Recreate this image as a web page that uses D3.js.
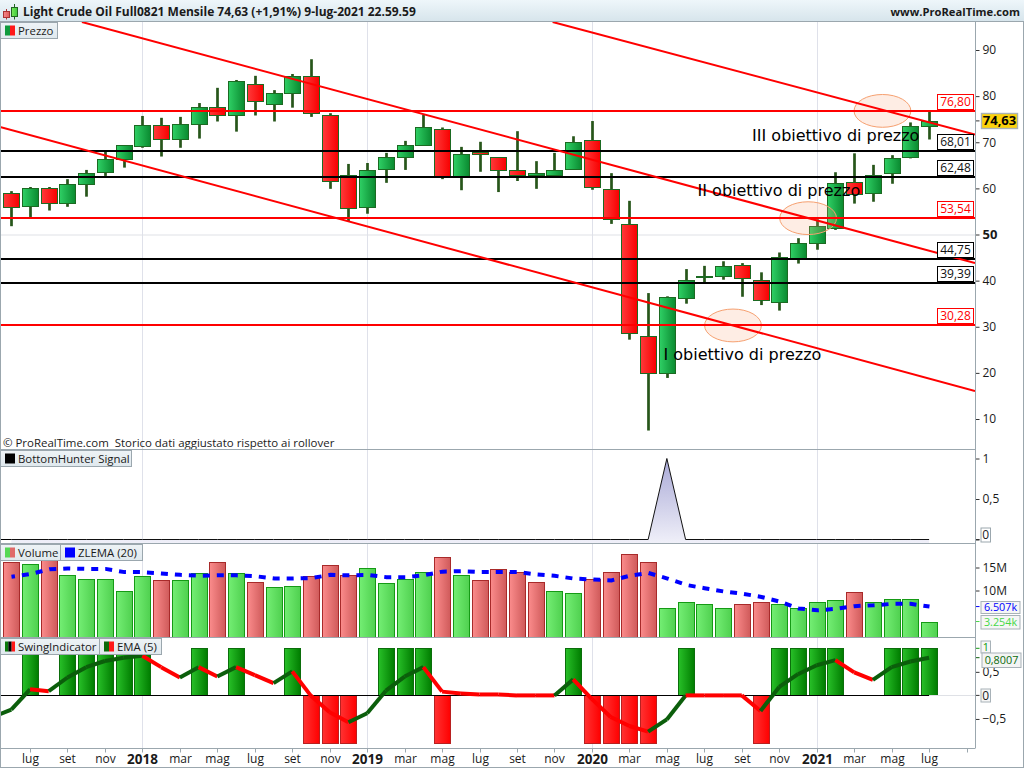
<!DOCTYPE html>
<html><head><meta charset="utf-8">
<script src="https://cdn.jsdelivr.net/npm/d3@7"></script>
<style>
html,body{margin:0;padding:0;background:#fff;overflow:hidden}
svg{display:block}
text{font-family:"Open Sans",sans-serif;fill:#1a1a1a}
</style></head><body>
<svg id="c" width="1024" height="768"></svg>
<script>
// ---------- DATA ----------
const monthTicks = ["lug","set","nov","2018","mar","mag","lug","set","nov","2019","mar","mag","lug","set","nov","2020","mar","mag","lug","set","nov","2021","mar","mag","lug",""];
const open  = [58.9,56.2,60.0,56.8,60.9,63.6,66.3,69.1,73.7,70.6,73.9,77.6,75.8,82.6,78.4,80.6,84.3,75.8,63.0,56.0,64.1,66.9,69.5,72.8,62.5,67.9,66.7,63.9,63.3,63.0,64.3,70.4,59.8,52.2,28.1,20.0,36.2,40.7,40.9,43.3,40.1,35.3,44.8,48.1,51.5,61.4,59.1,63.3,66.7,73.5];
const close = [55.9,60.0,56.8,60.9,63.3,66.3,69.3,73.7,70.6,73.9,77.6,75.8,83.2,78.9,80.6,84.3,76.3,61.5,55.7,63.9,66.9,69.5,73.2,62.5,67.4,67.4,63.9,63.0,63.0,63.9,70.0,60.4,53.3,28.6,19.9,36.4,40.1,40.9,43.1,40.5,35.7,45.1,48.1,51.8,61.1,58.7,63.0,66.5,73.5,74.6];
const high  = [59.4,60.3,60.3,62.0,64.0,68.0,69.3,75.7,75.3,75.5,78.5,81.8,83.5,84.4,81.3,84.8,88.0,76.3,65.3,65.5,67.7,70.3,75.9,73.2,69.0,70.1,66.7,72.4,65.9,67.7,71.3,74.6,63.3,57.3,37.3,36.6,42.5,43.2,44.2,43.8,41.8,46.1,49.2,53.3,63.5,67.6,65.1,67.2,74.3,76.6];
const low   = [51.8,53.8,55.2,56.0,58.2,62.7,64.5,68.8,66.9,68.8,70.8,74.5,72.3,75.8,74.5,77.5,75.5,59.9,52.8,54.5,61.2,64.0,69.5,62.0,59.6,63.6,59.2,61.6,59.9,62.5,64.0,59.7,52.3,27.2,7.5,18.9,35.0,39.5,40.2,36.5,34.7,33.5,43.7,46.7,51.0,56.7,57.1,61.0,66.5,70.6];
const bullish = [0,1,0,1,1,1,1,1,0,1,1,0,1,0,1,1,0,0,0,1,1,1,1,0,1,0,0,0,1,1,1,0,0,0,0,1,1,1,1,0,0,1,1,1,1,0,1,1,1,1];

const priceTicks = [10,20,30,40,50,60,70,80,90];
const redLevels = [76.80,53.54,30.28];
const blackLevels = [68.01,62.48,44.75,39.39];
// trend lines: [month index, price] endpoints
const trendA = [[3.77,96.07],[51.45,43.8]];
const trendB = [[-0.6,73.3],[51.45,16.07]];
const trendC = [[28.9,96.07],[51.45,71.7]];
// target ellipses: [month index, price]
const targets = [[46.51,76.8],[42.54,53.54],[38.53,30.28]];
const notes = ["III obiettivo di prezzo","II obiettivo di prezzo","I obiettivo di prezzo"];
const noteAnchors = [[39.55,70.3],[36.64,58.25],[34.82,22.8]];

const bottomHunter = [0,0,0,0,0,0,0,0,0,0,0,0,0,0,0,0,0,0,0,0,0,0,0,0,0,0,0,0,0,0,0,0,0,0,0,1,0,0,0,0,0,0,0,0,0,0,0,0,0,0];

const volume = [16.1,15.7,16.6,13.3,12.6,12.6,9.8,13.1,12.2,12.2,13.7,16.1,13.7,11.8,10.7,10.9,13.1,15.5,13.3,14.8,11.6,12.6,14.0,17.2,13.3,12.2,14.6,14.0,11.8,10.0,9.4,12.6,14.0,17.9,16.3,6.3,7.4,7.0,6.3,7.0,7.4,7.0,6.1,7.4,7.9,9.6,7.4,8.1,8.1,3.254];
const volumeUp = [0,1,0,1,1,1,1,1,0,1,1,0,1,0,1,1,0,0,0,1,1,1,1,0,1,0,0,0,0,1,1,0,0,0,0,1,1,1,1,0,0,1,1,1,1,0,1,1,1,1];
const zlema = [13.0,13.6,14.6,14.8,14.7,14.7,14.0,14.0,13.7,13.4,13.2,13.3,13.3,13.1,12.6,12.6,12.7,13.4,13.3,13.4,12.9,12.9,13.3,14.1,14.2,14.0,14.0,14.0,13.5,13.2,12.6,12.4,12.2,13.2,13.8,12.6,11.2,10.5,9.8,9.3,8.6,7.6,6.1,5.7,6.0,6.6,6.8,7.1,7.1,6.507];
const volumeTicks = [10,15];

const swing = [0,1,0,1,1,1,1,1,0,0,1,0,1,0,0,1,-1,-1,-1,0,1,1,1,-1,0,0,0,0,0,0,1,-1,-1,-1,-1,0,1,0,0,0,-1,1,1,1,1,0,0,1,1,1];
// EMA(5): first value belongs to the month before the first candle
const ema = [-0.46,-0.30,0.13,0.09,0.38,0.60,0.73,0.80,0.84,0.60,0.38,0.60,0.40,0.60,0.43,0.26,0.51,-0.01,-0.36,-0.57,-0.38,0.10,0.40,0.60,0.08,0.04,0.02,0.02,0.0,0.0,0.0,0.34,-0.08,-0.46,-0.65,-0.77,-0.51,0.0,0.0,0.0,0.0,-0.33,0.18,0.45,0.64,0.75,0.49,0.33,0.60,0.72,0.8007];
const swingTicks = [-0.5,0.5];

// ---------- LAYOUT ----------
const svg = d3.select("#c");
const W = 1024, H = 768, axisX = 975;
const P = {title:21, price:[22,449.5], hunter:[449.5,543.5], vol:[543.5,637.5], swing:[637.5,748.5]};
const FRAME = "#9ba7ae";

const x = d3.scaleLinear().domain([0,49]).range([11.3,929.1]);
const cx = i => Math.round(x(i))+0.5;
const y = d3.scaleLinear().domain([10,90]).range([419,50]);
const yH = d3.scaleLinear().domain([0,1]).range([539.5,458.5]);
const yV = d3.scaleLinear().domain([0,15]).range([636.5,567.5]);
const yS = d3.scaleLinear().domain([-1,1]).range([742.5,648.3]);
const comma = v => String(v).replace(".",",").replace("-","\u2212");

// ---------- DEFS ----------
const defs = svg.append("defs");
function grad(id,c1,c2,vert){
  const g = defs.append("linearGradient").attr("id",id)
    .attr("x1",0).attr("y1",0).attr("x2",vert?0:1).attr("y2",vert?1:0);
  g.append("stop").attr("offset",0).attr("stop-color",c1);
  g.append("stop").attr("offset",1).attr("stop-color",c2);
}
grad("gCandleUp","#2fd065","#0a8a30");
grad("gCandleDn","#ff3a3a","#f80000");
grad("gVolUp","#74ee74","#4fd04f");
grad("gVolDn","#fb8c8c","#cf5a5a");
grad("gSwUp","#28c028","#007c00");
grad("gSwDn","#ff3232","#ff0000");
grad("gTitle","#eef6fa","#d7e5ec",true);
grad("gLeg","#eef3f6","#dfe8ed",true);
grad("gHunter","#a9a9d6","#f0f0f9",true);
grad("gIconUp","#7cec5c","#3cc83c");
grad("gIconDn","#f48a8a","#e05a5a");
defs.append("clipPath").attr("id","clipPrice").append("rect")
  .attr("x",0).attr("y",P.price[0]).attr("width",axisX).attr("height",P.price[1]-P.price[0]);
defs.append("clipPath").attr("id","clipPlot").append("rect")
  .attr("x",0).attr("y",0).attr("width",axisX).attr("height",H);

// ---------- GRID ----------
const yearIdx = [7,19,31,43];
svg.append("g").selectAll("line").data(yearIdx).join("line")
  .attr("x1",cx).attr("x2",cx).attr("y1",P.price[0]).attr("y2",P.swing[1])
  .attr("stroke","#dfe1ea").attr("stroke-width",1);
svg.append("line").attr("x1",1).attr("x2",axisX).attr("y1",y(50)+.5).attr("y2",y(50)+.5)
  .attr("stroke","#dfe1e6").attr("stroke-width",1);

// ---------- PRICE ----------
const idx = d3.range(50);
const pg = svg.append("g");
pg.selectAll("rect.w").data(idx).join("rect").attr("class","w")
  .attr("x",i=>cx(i)-1.35).attr("width",2.7)
  .attr("y",i=>y(high[i])).attr("height",i=>y(low[i])-y(high[i]))
  .attr("fill","#27561a");
pg.selectAll("rect.b").data(idx).join("rect").attr("class","b")
  .attr("x",i=>cx(i)-8).attr("width",16)
  .attr("y",i=>Math.round(y(Math.max(open[i],close[i])))+.5)
  .attr("height",i=>Math.max(0.5,Math.round(y(Math.min(open[i],close[i])))-Math.round(y(Math.max(open[i],close[i])))))
  .attr("fill",i=>bullish[i]?"url(#gCandleUp)":"url(#gCandleDn)")
  .attr("stroke","#1c6a22").attr("stroke-width",1);

// target ellipses
svg.append("g").selectAll("ellipse").data(targets).join("ellipse")
  .attr("cx",d=>x(d[0])).attr("cy",d=>y(d[1])).attr("rx",28.4).attr("ry",16.4)
  .attr("fill","#f9a47a").attr("fill-opacity",0.2)
  .attr("stroke","#f6a070").attr("stroke-width",1);

// horizontal levels
const lg = svg.append("g");
lg.selectAll("line.k").data(blackLevels).join("line").attr("class","k")
  .attr("x1",1).attr("x2",axisX).attr("y1",d=>Math.round(y(d))).attr("y2",d=>Math.round(y(d)))
  .attr("stroke","#000").attr("stroke-width",2);
lg.selectAll("line.r").data(redLevels).join("line").attr("class","r")
  .attr("x1",1).attr("x2",axisX).attr("y1",d=>Math.round(y(d))).attr("y2",d=>Math.round(y(d)))
  .attr("stroke","#ff0000").attr("stroke-width",2);

// trend lines
const tl = d3.line().x(d=>x(d[0])).y(d=>y(d[1]));
svg.append("g").attr("clip-path","url(#clipPrice)").selectAll("path")
  .data([trendA,trendB,trendC]).join("path")
  .attr("d",tl).attr("fill","none").attr("stroke","#ff0000").attr("stroke-width",2);

// level labels
const levels = redLevels.map(v=>({v,c:"#ff0000"})).concat(blackLevels.map(v=>({v,c:"#000"})));
const lb = svg.append("g").selectAll("g").data(levels).join("g")
  .attr("transform",d=>`translate(937.5,${Math.round(y(d.v))-16.5})`);
lb.append("rect").attr("width",36).attr("height",15).attr("fill","#fff").attr("stroke",d=>d.c).attr("stroke-width",1);
lb.append("text").attr("x",18).attr("y",11.6).attr("text-anchor","middle").attr("font-size",12)
  .style("fill",d=>d.c==="#000"?"#111":"#ff0000").text(d=>d.v.toFixed(2).replace(".",","));

// annotations
svg.append("g").selectAll("text").data(notes).join("text")
  .attr("x",(d,i)=>x(noteAnchors[i][0])).attr("y",(d,i)=>y(noteAnchors[i][1]))
  .attr("font-size",16).style("font-family",'"DejaVu Sans",sans-serif').style("fill","#000").text(d=>d);

svg.append("text").attr("x",3).attr("y",447).attr("font-size",11.45)
  .text("\u00a9 ProRealTime.com\u00a0\u00a0Storico dati aggiustato rispetto ai rollover");

// ---------- BOTTOM HUNTER ----------
const ha = d3.area().x((d,i)=>x(i)).y0(P.hunter[1]).y1(d=>yH(d));
svg.append("path").datum(bottomHunter).attr("d",ha).attr("fill","url(#gHunter)");
const hl = d3.line().x((d,i)=>x(i)).y(d=>yH(d));
svg.append("line").attr("x1",1).attr("x2",x(0)).attr("y1",yH(0)).attr("y2",yH(0)).attr("stroke","#000");
svg.append("path").datum(bottomHunter).attr("d",hl).attr("fill","none").attr("stroke","#111").attr("stroke-width",1);

// ---------- VOLUME ----------
svg.append("g").selectAll("rect").data(idx).join("rect")
  .attr("x",i=>cx(i)-8).attr("width",16)
  .attr("y",i=>Math.round(yV(volume[i]))+.5).attr("height",i=>P.vol[1]-Math.round(yV(volume[i]))-.5)
  .attr("fill",i=>volumeUp[i]?"url(#gVolUp)":"url(#gVolDn)")
  .attr("stroke",i=>volumeUp[i]?"#159a15":"#a82a2a").attr("stroke-width",1);
svg.append("path").datum(zlema)
  .attr("d",d3.line().x((d,i)=>cx(i)).y(d=>yV(d)))
  .attr("fill","none").attr("stroke","#0000ff").attr("stroke-width",4)
  .attr("stroke-dasharray","7 7").attr("stroke-dashoffset",3.5);

// ---------- SWING ----------
svg.append("g").selectAll("rect").data(idx.filter(i=>swing[i]!==0)).join("rect")
  .attr("x",i=>cx(i)-8).attr("width",16)
  .attr("y",i=>swing[i]>0?Math.round(yS(1))+.5:Math.round(yS(0))+.5)
  .attr("height",i=>swing[i]>0?Math.round(yS(0))-Math.round(yS(1)):Math.round(yS(-1))-Math.round(yS(0)))
  .attr("fill",i=>swing[i]>0?"url(#gSwUp)":"url(#gSwDn)")
  .attr("stroke",i=>swing[i]>0?"#0b6e0b":"#b82020").attr("stroke-width",1);
svg.append("line").attr("x1",1).attr("x2",x(49)).attr("y1",Math.round(yS(0))+.5).attr("y2",Math.round(yS(0))+.5).attr("stroke","#000");
svg.append("line").attr("x1",x(49)).attr("x2",axisX).attr("y1",Math.round(yS(0))+.5).attr("y2",Math.round(yS(0))+.5).attr("stroke","#dfe1e6");
const emaG = svg.append("g").attr("clip-path","url(#clipPlot)");
emaG.selectAll("line").data(d3.range(ema.length-1)).join("line")
  .attr("x1",k=>x(k-1)).attr("x2",k=>x(k))
  .attr("y1",k=>yS(ema[k])).attr("y2",k=>yS(ema[k+1]))
  .attr("stroke",k=>ema[k+1]>ema[k]?"#0b5e0b":"#ff0000")
  .attr("stroke-width",4).attr("stroke-linecap","butt");

// ---------- AXES ----------
function styleAxis(g,size){
  g.select(".domain").remove();
  g.selectAll(".tick line").attr("stroke","#333");
  g.selectAll(".tick text").attr("font-size",size).style("font-family",'"Open Sans",sans-serif').style("fill","#1a1a1a");
}
const ax = svg.append("g").attr("transform",`translate(${axisX+.5},0)`)
  .call(d3.axisRight(y).tickValues(priceTicks).tickSize(4).tickPadding(3).tickFormat(d3.format("d")));
styleAxis(ax,12);
ax.selectAll(".tick text").filter(d=>d===50).attr("font-weight","bold").attr("font-size",13);

const ah = svg.append("g").attr("transform",`translate(${axisX+.5},0)`)
  .call(d3.axisRight(yH).tickValues([0,0.5,1]).tickSize(4).tickPadding(3).tickFormat(comma));
styleAxis(ah,12);
ah.selectAll(".tick text").filter(d=>d===0).remove();

const av = svg.append("g").attr("transform",`translate(${axisX+.5},0)`)
  .call(d3.axisRight(yV).tickValues(volumeTicks).tickSize(4).tickPadding(3).tickFormat(d=>d+"M"));
styleAxis(av,12);

const as = svg.append("g").attr("transform",`translate(${axisX+.5},0)`)
  .call(d3.axisRight(yS).tickValues(swingTicks).tickSize(4).tickPadding(3).tickFormat(comma));
styleAxis(as,12);

const tickIdx = d3.range(1,52,2);
const at = svg.append("g").attr("transform",`translate(0,${P.swing[1]})`)
  .call(d3.axisBottom(x).tickValues(tickIdx).tickSize(4).tickPadding(2).tickFormat((d,i)=>monthTicks[i]));
styleAxis(at,12);
at.selectAll(".tick line").attr("stroke","#9ba7ae");
at.selectAll(".tick").attr("transform",d=>`translate(${cx(d)},0)`);
at.selectAll(".tick text").filter((d,i)=>/^\d+$/.test(monthTicks[i])).attr("font-weight","bold").attr("font-size",13.5);

// small value boxes on the right
function valBox(bx,by,w,h,txt,col,fill,stroke,opts){
  opts=opts||{};
  const g = svg.append("g").attr("transform",`translate(${bx},${by})`);
  g.append("rect").attr("width",w).attr("height",h).attr("fill",fill).attr("stroke",stroke).attr("stroke-width",opts.sw||1);
  g.append("text").attr("x",w/2).attr("y",h/2+(opts.size&&opts.size<12?3.9:4.2)).attr("text-anchor","middle")
    .attr("font-size",opts.size||12).attr("font-weight",opts.bold?"bold":"normal").style("fill",col).text(txt);
}
function smallTick(v,scale,col){
  svg.append("line").attr("x1",axisX+.5).attr("x2",axisX+4.5).attr("y1",scale(v)).attr("y2",scale(v)).attr("stroke",col||"#333");
}
smallTick(close[49]+0.03,y);
valBox(981.5,113.5,36,15,"74,63","#000","#fbd10b","#a8b2b8",{bold:true,size:13,sw:1.4});
smallTick(0,yH);
valBox(981,528,9.5,14,"0","#222","#fff","#9ba7ae");
smallTick(zlema[49],yV,"#0000ff");
valBox(981,601.5,39,12,"6.507k","#0000ff","#f6f6f6","#a8b2b8",{size:10.8});
smallTick(volume[49],yV,"#46d846");
valBox(981,615.5,39,13.5,"3.254k","#46d846","#f6f6f6","#a8b2b8",{size:10.8});
smallTick(1,yS,"#119911");
valBox(981,641,9.5,12,"1","#0a9a0a","#f6f6f6","#a8b2b8",{size:10.8});
smallTick(0,yS);
valBox(981,689,9.5,13,"0","#222","#f6f6f6","#a8b2b8");
smallTick(ema[50],yS,"#0b5e0b");
valBox(982,653,39,14.5,"0,8007","#0b6a0b","#f4f4f4","#a8b2b8",{size:10.8});

// ---------- FRAME, TITLE, LEGENDS ----------
const fr = svg.append("g").attr("fill","none").attr("stroke",FRAME).attr("stroke-width",1);
fr.append("line").attr("x1",0.5).attr("x2",0.5).attr("y1",0).attr("y2",H);
fr.append("line").attr("x1",W-.5).attr("x2",W-.5).attr("y1",0).attr("y2",H);
fr.append("line").attr("x1",0).attr("x2",W).attr("y1",H-.5).attr("y2",H-.5);
fr.append("line").attr("x1",axisX+.5).attr("x2",axisX+.5).attr("y1",22).attr("y2",P.swing[1]);
[P.price[1],P.hunter[1],P.vol[1],P.swing[1]].forEach(yy=>{
  fr.append("line").attr("x1",0).attr("x2",axisX).attr("y1",yy).attr("y2",yy);
});
svg.append("rect").attr("x",0).attr("y",0).attr("width",W).attr("height",P.title).attr("fill","url(#gTitle)");
fr.append("line").attr("x1",0).attr("x2",W).attr("y1",.5).attr("y2",.5);
fr.append("line").attr("x1",0).attr("x2",W).attr("y1",21.5).attr("y2",21.5);

// title icon
const ic = svg.append("g");
ic.append("line").attr("x1",6.5).attr("x2",6.5).attr("y1",9).attr("y2",19.5).attr("stroke","#a33");
ic.append("rect").attr("x",3.5).attr("y",11.5).attr("width",6).attr("height",6).attr("fill","url(#gIconDn)").attr("stroke","#a33");
ic.append("line").attr("x1",14.5).attr("x2",14.5).attr("y1",4).attr("y2",19.5).attr("stroke","#262");
ic.append("rect").attr("x",11.5).attr("y",7.5).attr("width",6).attr("height",9).attr("fill","url(#gIconUp)").attr("stroke","#262");

svg.append("text").attr("x",23).attr("y",16.4).attr("font-size",12).attr("font-weight","bold")
  .text("Light Crude Oil Full0821 Mensile 74,63 (+1,91%) 9-lug-2021 22.59.59");
svg.append("text").attr("x",1020).attr("y",16.4).attr("text-anchor","end").attr("font-size",11.2).attr("font-weight","bold")
  .text("www.ProRealTime.com");

function legend(x0,y0,w,label,swatches){
  const g = svg.append("g").attr("transform",`translate(${x0},${y0})`);
  g.append("rect").attr("x",.5).attr("y",.5).attr("width",w).attr("height",16).attr("fill","url(#gLeg)").attr("stroke",FRAME);
  const sw = 10/swatches.length;
  swatches.forEach((c,i)=>g.append("rect").attr("x",5+i*sw).attr("y",3.5).attr("width",sw).attr("height",10).attr("fill",c));
  g.append("text").attr("x",18).attr("y",12.6).attr("font-size",11.4).text(label);
}
legend(0,22,57,"Prezzo",["#0e9a3c","#ff1818"]);
legend(0,450,131,"BottomHunter Signal",["#000"]);
legend(0,544,60,"Volume",["#55d855","#e06a6a"]);
legend(60,544,82,"ZLEMA (20)",["#0000ff"]);
legend(0,638,99,"SwingIndicator",["#0a7a0a","#000","#ff1818"]);
legend(99,638,62,"EMA (5)",["#0a6a0a","#ff1818"]);
</script>
</body></html>
